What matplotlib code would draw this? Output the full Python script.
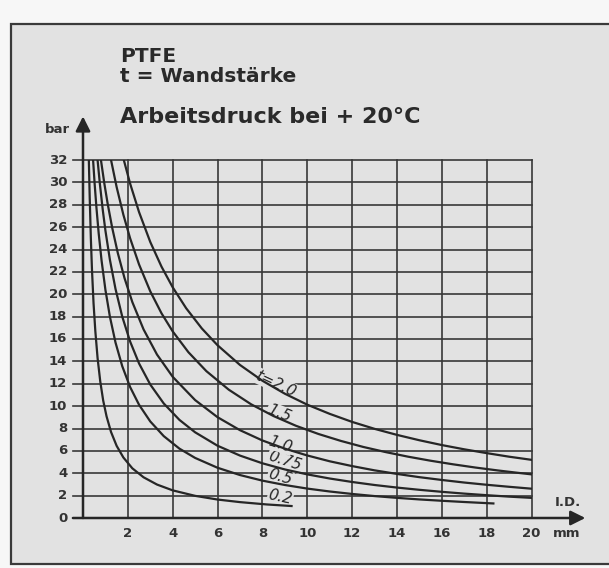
import matplotlib
matplotlib.use("Agg")
import matplotlib.pyplot as plt
from matplotlib.patches import Rectangle

# Arbeitsdruck (bar) über Innendurchmesser I.D. (mm), je Wandstärke t
id_02 = [0.26, 0.30, 0.35, 0.40, 0.47, 0.55, 0.65, 0.77, 0.90, 1.05, 1.25, 1.5, 1.8, 2.2, 2.7, 3.3, 4.0, 5.0, 6.0, 7.0, 8.2, 9.3]
bar_02 = [32, 28.6, 25.0, 22.2, 19.2, 16.7, 14.3, 12.2, 10.5, 9.09, 7.69, 6.45, 5.41, 4.44, 3.64, 2.99, 2.47, 1.98, 1.65, 1.42, 1.21, 1.07]

id_05 = [0.45, 0.52, 0.6, 0.7, 0.83, 1.0, 1.2, 1.45, 1.75, 2.1, 2.5, 3.0, 3.6, 4.3, 5.0, 6.0, 7.0, 8.0, 9.0, 10, 11, 12, 13, 14, 15, 16, 17, 18.3]
bar_05 = [32, 29.85, 27.72, 25.44, 22.98, 20.39, 17.99, 15.68, 13.57, 11.71, 10.12, 8.63, 7.32, 6.20, 5.37, 4.49, 3.84, 3.34, 2.95, 2.63, 2.37, 2.15, 1.96, 1.80, 1.66, 1.54, 1.43, 1.30]

id_075 = [0.65, 0.75, 0.88, 1.0, 1.2, 1.45, 1.75, 2.1, 2.5, 3.0, 3.6, 4.3, 5.0, 6.0, 7.0, 8.0, 9.0, 10, 11, 12, 13, 14, 15, 16, 17, 18, 19, 20]
bar_075 = [32, 29.91, 27.56, 25.69, 23.08, 20.47, 18.00, 15.78, 13.81, 11.93, 10.24, 8.77, 7.66, 6.46, 5.58, 4.89, 4.34, 3.90, 3.53, 3.22, 2.95, 2.72, 2.52, 2.34, 2.18, 2.04, 1.91, 1.80]

id_10 = [0.8, 0.95, 1.1, 1.3, 1.55, 1.85, 2.2, 2.7, 3.3, 4.0, 5.0, 6.0, 7.0, 8.0, 9.0, 10, 11, 12, 13, 14, 15, 16, 17, 18, 19, 20]
bar_10 = [32, 29.92, 28.09, 25.96, 23.70, 21.45, 19.30, 16.86, 14.61, 12.62, 10.54, 9.01, 7.85, 6.93, 6.20, 5.59, 5.07, 4.64, 4.26, 3.94, 3.65, 3.40, 3.17, 2.97, 2.79, 2.62]

id_15 = [1.25, 1.5, 1.8, 2.1, 2.5, 3.0, 3.5, 4.0, 4.7, 5.5, 6.5, 7.5, 8.5, 9.5, 10.5, 11.5, 12.5, 13.5, 14.5, 15.5, 16.5, 17.5, 18.5, 19.3, 20]
bar_15 = [32, 29.58, 27.11, 25.01, 22.66, 20.26, 18.30, 16.68, 14.82, 13.13, 11.47, 10.16, 9.11, 8.24, 7.51, 6.89, 6.35, 5.89, 5.48, 5.12, 4.80, 4.51, 4.25, 4.06, 3.90]

id_20 = [1.82, 2.1, 2.5, 3.0, 3.5, 4.0, 4.6, 5.3, 6.0, 7.0, 8.0, 9.0, 10, 11, 12, 13, 14, 15, 16, 17, 18, 19, 20]
bar_20 = [32, 29.9, 27.34, 24.67, 22.47, 20.62, 18.75, 16.94, 15.44, 13.68, 12.27, 11.11, 10.13, 9.31, 8.59, 7.97, 7.43, 6.95, 6.52, 6.14, 5.80, 5.48, 5.20]

curve_labels = ["0.2", "0.5", "0.75", "1.0", "1.5", "t=2.0"]
x_ticks = [2, 4, 6, 8, 10, 12, 14, 16, 18, 20]
y_ticks = list(range(0, 34, 2))

bg = "#e2e2e2"
ink = "#262626"

fig = plt.figure(figsize=(6.09, 5.68), dpi=100)
fig.patch.set_facecolor("#f7f7f7")
frame = Rectangle((11 / 609, 1 - 564 / 568), 620 / 609, (564 - 24) / 568,
                  transform=fig.transFigure, fc=bg, ec="#3a3a3a", lw=1.6, zorder=-5)
fig.patches.append(frame)

ax = fig.add_axes([83 / 609, 50 / 568, 448.5 / 609, 358 / 568])
ax.set_zorder(2)
ax.set_xlim(0, 20)
ax.set_ylim(0, 32)
ax.axis("off")

# Raster
for y in y_ticks[1:]:
    ax.plot([-0.45, 20], [y, y], color="#383838", lw=1.2, clip_on=False, zorder=1)
for x in x_ticks:
    ax.plot([x, x], [0, 32], color="#383838", lw=1.2, clip_on=False, zorder=1)

# Achsen mit Pfeilen
ax.annotate("", xy=(0, 35.9), xytext=(0, 0), annotation_clip=False,
            arrowprops=dict(arrowstyle="-|>", color=ink, lw=1.8, mutation_scale=22, shrinkA=0, shrinkB=0))
ax.annotate("", xy=(22.4, 0), xytext=(-0.45, 0), annotation_clip=False,
            arrowprops=dict(arrowstyle="-|>", color=ink, lw=1.8, mutation_scale=22, shrinkA=0, shrinkB=0))

# Kurven
series = [(id_02, bar_02), (id_05, bar_05), (id_075, bar_075),
          (id_10, bar_10), (id_15, bar_15), (id_20, bar_20)]
for xs, ys in series:
    ax.plot(xs, ys, color=ink, lw=1.6, solid_joinstyle="round", zorder=3)

# Beschriftung der Kurven (Hintergrund unterbricht das Raster)
label_pos = [(8.8, 1.9, -12), (8.8, 3.7, -16), (9.0, 5.1, -18),
             (8.8, 6.6, -18), (8.75, 9.35, -22), (8.6, 12.0, -25)]
for text, (lx, ly, rot) in zip(curve_labels, label_pos):
    ax.text(lx, ly, text, rotation=rot, ha="center", va="center", fontsize=11,
            style="italic", color=ink, family="DejaVu Sans", zorder=2.5,
            bbox=dict(fc=bg, ec="none", pad=0.5))

# Tick-Beschriftung
tick_font = dict(fontsize=9.5, fontweight="bold", color="#333333", family="DejaVu Sans")
for y in y_ticks:
    ax.text(-0.7, y, str(y), ha="right", va="center", **tick_font)
for x in x_ticks:
    ax.text(x, -1.4, str(x), ha="center", va="center", **tick_font)
ax.text(21.55, -1.4, "mm", ha="center", va="center", **tick_font)
ax.text(-1.15, 34.7, "bar", ha="center", va="center", **tick_font)
ax.text(21.6, 1.35, "I.D.", ha="center", va="center", **tick_font)

# Titel
title_font = dict(ha="left", va="center", fontweight="bold", color="#2a2a2a", family="DejaVu Sans")
fig.text(120 / 609, 1 - 57 / 568, "PTFE", fontsize=14.5, **title_font)
fig.text(120 / 609, 1 - 77 / 568, "t = Wandstärke", fontsize=14.5, **title_font)
fig.text(120 / 609, 1 - 117 / 568, "Arbeitsdruck bei + 20°C", fontsize=16, **title_font)

fig.savefig("out.png", dpi=100, facecolor=fig.get_facecolor())
